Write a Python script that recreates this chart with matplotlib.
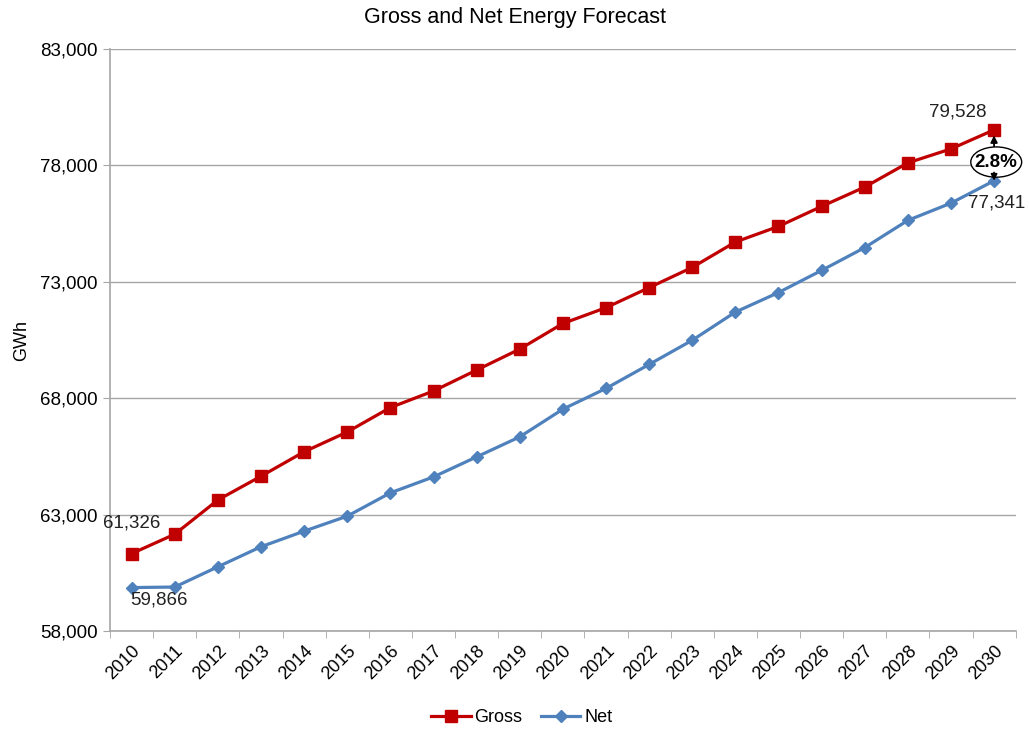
import matplotlib
matplotlib.use("Agg")
import matplotlib.pyplot as plt
from matplotlib.patches import Ellipse
import numpy as np

plt.rcParams['font.family'] = ['Liberation Sans', 'DejaVu Sans']

years = [str(y) for y in range(2010, 2031)]
gross = [61326, 62160, 63630, 64650, 65700, 66550, 67600, 68310, 69210, 70110,
         71210, 71890, 72750, 73620, 74710, 75380, 76240, 77070, 78110, 78710,
         79528]
net = [59866, 59890, 60760, 61620, 62290, 62935, 63935, 64620, 65480, 66340,
       67530, 68420, 69450, 70490, 71700, 72540, 73490, 74470, 75640, 76380,
       77341]
y_ticks = [58000, 63000, 68000, 73000, 78000, 83000]

red = '#C00000'
blue = '#4F81BD'
grid_c = '#A6A6A6'

fig = plt.figure(figsize=(10.29, 7.34), dpi=100)
ax = fig.add_axes([0.107, 0.1403, 0.880, 0.7929])

x = np.arange(len(years))
ax.plot(x, gross, color=red, lw=2.3, marker='s', ms=8.5, label='Gross', zorder=4)
ax.plot(x, net, color=blue, lw=2.3, marker='D', ms=6.5, label='Net', zorder=3)

ax.set_xlim(-0.5, len(years) - 0.5)
ax.set_ylim(y_ticks[0], y_ticks[-1])
ax.set_yticks(y_ticks)
ax.set_yticklabels([f'{v:,}' for v in y_ticks], fontsize=13.5)
ax.yaxis.grid(True, color=grid_c, lw=1.0)
ax.set_axisbelow(True)

ax.set_xticks(x)
ax.set_xticklabels(years, rotation=45, ha='right', rotation_mode='anchor', fontsize=13)
ax.set_xticks(np.arange(-0.5, len(years)), minor=True)
ax.tick_params(axis='x', which='major', length=0, pad=8)
ax.tick_params(axis='x', which='minor', length=5, color=grid_c, direction='out')
ax.tick_params(axis='y', length=5, color=grid_c, direction='out', pad=4)

for s in ['top', 'right']:
    ax.spines[s].set_visible(False)
for s in ['left', 'bottom']:
    ax.spines[s].set_color(grid_c)
    ax.spines[s].set_linewidth(1.2)

ax.set_ylabel('GWh', fontsize=13, labelpad=7)
fig.text(0.5, 1 - 17 / 734, 'Gross and Net Energy Forecast', ha='center',
         va='center', fontsize=15.5)

# data labels at the ends of each series
lab = dict(fontsize=13.5, color='#222222', textcoords='offset points',
           va='center', annotation_clip=False)
ax.annotate(f'{gross[0]:,}', (x[0], gross[0]), xytext=(0, 22.3), ha='center', **lab)
ax.annotate(f'{net[0]:,}', (x[0], net[0]), xytext=(-0.7, -8.6), ha='left', **lab)
ax.annotate(f'{gross[-1]:,}', (x[-1], gross[-1]), xytext=(-26, 13), ha='center', **lab)
ax.annotate(f'{net[-1]:,}', (x[-1], net[-1]), xytext=(2, -15.8), ha='center', **lab)

# gap between gross and net in the final year
pct = (gross[-1] - net[-1]) / net[-1] * 100
ex, ey = x[-1] + 0.05, (gross[-1] + net[-1]) / 2 - 290
eh = 1300
ax.annotate('', xy=(x[-1], gross[-1]), xytext=(x[-1], ey + eh / 2),
            arrowprops=dict(arrowstyle='-|>', color='black', lw=1.3,
                            mutation_scale=10, shrinkA=0, shrinkB=4), zorder=5)
ax.annotate('', xy=(x[-1], net[-1]), xytext=(x[-1], ey - eh / 2 + 200),
            arrowprops=dict(arrowstyle='-|>', color='black', lw=1.3,
                            mutation_scale=9, shrinkA=0, shrinkB=0), zorder=8)
ell = Ellipse((ex, ey), width=1.18, height=eh, facecolor='white',
              edgecolor='black', lw=1.0, zorder=6, clip_on=False)
ax.add_patch(ell)
ax.text(ex, ey, f'{pct:.1f}%', ha='center', va='center', fontsize=13.5,
        fontweight='bold', zorder=7, clip_on=False)

fig.legend(loc='center', bbox_to_anchor=(0.507, 0.022), ncol=2, frameon=False,
           fontsize=13, handlelength=2.2, columnspacing=1.0, handletextpad=0.2)

fig.savefig('out.png', dpi=100)
